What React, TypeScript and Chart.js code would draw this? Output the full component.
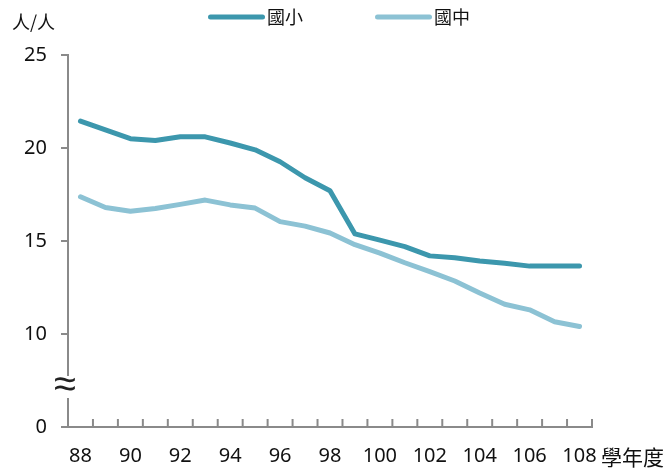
import React, { useEffect, useRef } from 'react';
import { Chart, registerables } from 'chart.js';

Chart.register(...registerables);

const years = ['88','89','90','91','92','93','94','95','96','97','98','99','100','101','102','103','104','105','106','107','108'];
const primary = [21.45, 20.97, 20.5, 20.4, 20.6, 20.6, 20.27, 19.9, 19.26, 18.4, 17.7, 15.38, 15.05, 14.7, 14.2, 14.1, 13.93, 13.8, 13.65, 13.65, 13.65];
const junior = [17.38, 16.8, 16.6, 16.75, 16.97, 17.2, 16.94, 16.77, 16.04, 15.8, 15.43, 14.8, 14.35, 13.83, 13.35, 12.85, 12.2, 11.6, 11.3, 10.66, 10.4];
const seriesNames = ['國小', '國中'];
const seriesColors = ['#3c97ad', '#8cc2d4'];
const yTickValues = [5, 10, 15, 20, 25];
const yUnit = '人/人';
const xUnit = '學年度';

const AXIS = '#8a8a8a';
const NUM_FONT = '"Noto Sans", sans-serif';
const CJK_FONT = '"Noto Sans CJK TC", sans-serif';

export default function App() {
  const ref = useRef<HTMLCanvasElement>(null);
  useEffect(() => {
    document.body.style.margin = '0';
    const canvas = ref.current!;
    const deco = {
      id: 'deco',
      afterDraw(chart: any) {
        const ctx = chart.ctx;
        const area = chart.chartArea;
        const xs = chart.scales.x;
        ctx.save();
        // inner x tick marks
        ctx.strokeStyle = AXIS;
        ctx.lineWidth = 2;
        for (let i = 0; i < years.length; i++) {
          const x = i < years.length - 1 ? (xs.getPixelForValue(i) + xs.getPixelForValue(i + 1)) / 2 : area.right;
          ctx.beginPath();
          ctx.moveTo(x, area.bottom);
          ctx.lineTo(x, area.bottom - 8);
          ctx.stroke();
        }
        // axis break
        ctx.fillStyle = '#fff';
        ctx.fillRect(area.left - 3, 376, 6, 22);
        ctx.fillStyle = '#222';
        ctx.font = `40px ${NUM_FONT}`;
        ctx.textAlign = 'center';
        ctx.textBaseline = 'middle';
        ctx.fillText('≈', area.left - 3, 386);
        // unit labels
        ctx.fillStyle = '#111';
        ctx.font = `18px ${CJK_FONT}`;
        ctx.textAlign = 'left';
        ctx.fillText(yUnit, 12, 22);
        ctx.font = `21px ${CJK_FONT}`;
        ctx.fillText(xUnit, 601, 457);
        // legend
        const legendX = [208, 375];
        ctx.lineCap = 'round';
        ctx.lineWidth = 5;
        for (let i = 0; i < 2; i++) {
          ctx.strokeStyle = seriesColors[i];
          ctx.beginPath();
          ctx.moveTo(legendX[i] + 2.5, 17);
          ctx.lineTo(legendX[i] + 54.5, 17);
          ctx.stroke();
          ctx.fillStyle = '#111';
          ctx.font = `18px ${CJK_FONT}`;
          ctx.fillText(seriesNames[i], legendX[i] + 59, 17);
        }
        ctx.restore();
      },
    };
    const chart = new Chart(canvas, {
      type: 'line',
      data: {
        labels: years,
        datasets: [
          { label: seriesNames[0], data: primary, borderColor: seriesColors[0], backgroundColor: seriesColors[0], borderWidth: 5, pointRadius: 0, tension: 0, borderJoinStyle: 'round', borderCapStyle: 'round' },
          { label: seriesNames[1], data: junior, borderColor: seriesColors[1], backgroundColor: seriesColors[1], borderWidth: 5, pointRadius: 0, tension: 0, borderJoinStyle: 'round', borderCapStyle: 'round' },
        ],
      },
      options: {
        responsive: false,
        animation: false,
        layout: { padding: { top: 55, right: 78, left: 0, bottom: 0 } },
        plugins: { legend: { display: false }, tooltip: { enabled: false } },
        scales: {
          x: {
            type: 'category',
            offset: true,
            grid: { display: true, offset: true, drawOnChartArea: false, drawTicks: false },
            border: { display: true, color: AXIS, width: 2 },
            ticks: {
              autoSkip: false,
              maxRotation: 0,
              padding: 17,
              color: '#111',
              font: { family: NUM_FONT, size: 20 },
              callback: (v: any, i: number) => (i % 2 === 0 ? years[i] : ''),
            },
            afterFit: (s: any) => { s.height = 43; },
          },
          y: {
            min: 5,
            max: 25,
            afterBuildTicks: (s: any) => { s.ticks = yTickValues.map((v) => ({ value: v })); },
            grid: { display: true, drawOnChartArea: false, drawTicks: true, tickLength: 7, color: AXIS, lineWidth: 2 },
            border: { display: true, color: AXIS, width: 2 },
            ticks: {
              padding: 14,
              color: '#111',
              font: { family: NUM_FONT, size: 20 },
              callback: (v: any) => (v === 5 ? '0' : String(v)),
            },
            afterFit: (s: any) => { s.width = 68; },
          },
        },
      },
      plugins: [deco],
    });
    return () => chart.destroy();
  }, []);
  return <canvas ref={ref} width={670} height={470} style={{ display: 'block' }} />;
}
